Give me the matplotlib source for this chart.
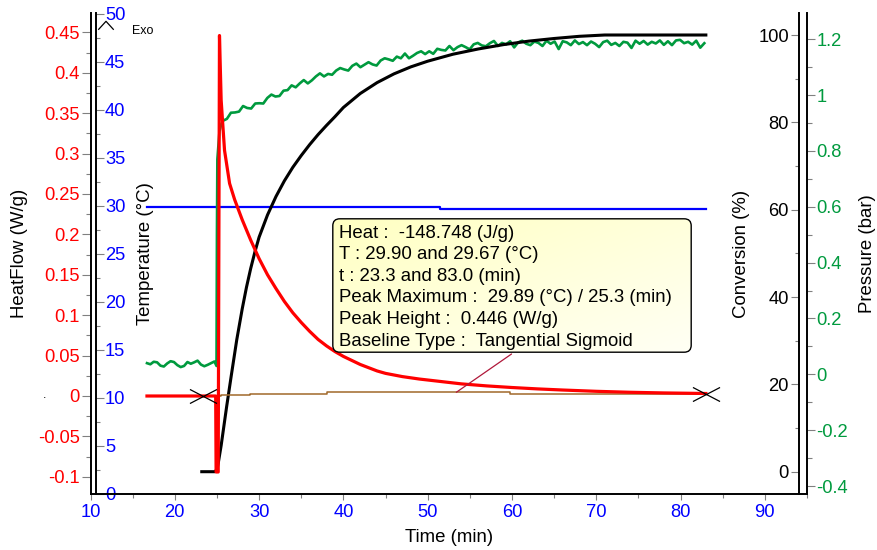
import numpy as np
import matplotlib
matplotlib.use("Agg")
import matplotlib.pyplot as plt
from matplotlib.path import Path
from matplotlib.patches import FancyBboxPatch
from matplotlib.lines import Line2D
from matplotlib.ticker import MultipleLocator, FuncFormatter

plt.rcParams['font.family'] = ['Liberation Sans', 'DejaVu Sans']
plt.rcParams['axes.unicode_minus'] = False

# ---------------- data ----------------
# heat flow (W/g)
t_hf = [16.7, 24.85, 24.9, 25.15, 25.3, 25.5, 25.9, 26.5, 27.1, 28.0, 29.0, 30.0,
        31.0, 32.0, 33.0, 34.0, 35.0, 36.0, 37.0, 38.0, 39.0, 40.0, 41.0, 42.0,
        43.0, 44.0, 45.0, 47.0, 49.0, 51.5, 54.0, 57.0, 60.0, 63.0, 66.0, 70.0,
        74.0, 78.0, 83.0]
hf = [0.0, 0.0, -0.094, -0.094, 0.446, 0.366, 0.304, 0.263, 0.243, 0.218, 0.193, 0.170,
      0.150, 0.133, 0.117, 0.103, 0.091, 0.080, 0.070, 0.062, 0.055, 0.049, 0.044, 0.039,
      0.035, 0.031, 0.028, 0.024, 0.021, 0.018, 0.015, 0.0125, 0.0105, 0.0088, 0.0074,
      0.0058, 0.0046, 0.0038, 0.0031]

# conversion (%)
t_conv = [23.2, 24.75, 25.0, 25.15, 25.5, 26.15, 26.7, 27.35, 28.0, 28.5, 29.0, 29.5,
          30.0, 31.0, 32.0, 33.0, 34.0, 35.0, 36.0, 37.0, 38.0, 39.0, 40.0, 42.0,
          44.0, 46.0, 48.0, 50.0, 53.0, 56.0, 59.0, 62.0, 65.0, 68.0, 71.0, 83.0]
conv = [0.0, 0.0, 0.5, 1.9, 6.0, 14.9, 22.0, 30.2, 37.3, 42.2, 46.5, 50.3,
        53.7, 58.8, 63.0, 66.6, 69.7, 72.4, 74.9, 77.2, 79.3, 81.3, 83.4, 86.6,
        89.1, 91.1, 92.7, 94.0, 95.6, 96.8, 97.8, 98.6, 99.2, 99.7, 100.0, 100.0]

# sample temperature (°C)
t_temp = [16.7, 51.5, 83.0]
temp = [29.90, 29.67, 29.67]

# integration baseline (W/g)
t_base = [23.3, 25.5, 28.9, 38.0, 59.8, 83.0]
base = [0.0, 0.0012, 0.0028, 0.0046, 0.0028, 0.0028]
t_limits = [23.3, 83.0]
hf_limits = [0.0, 0.0030]

# pressure (bar), logged at a fixed interval before and after dosing
p_pre_start, p_pre_step = 16.7, 0.4
p_pre = [0.040, 0.036, 0.045, 0.043, 0.031, 0.028, 0.039, 0.047, 0.044, 0.033, 0.026,
         0.030, 0.044, 0.038, 0.043, 0.049, 0.035, 0.029, 0.034, 0.040, 0.046]
t_rise = [24.95, 25.0, 25.05, 25.3, 25.5]
p_rise = [0.030, 0.50, 0.77, 0.87, 0.895]
p_post_start, p_post_step = 25.7, 0.48
p_post = [0.908, 0.915, 0.937, 0.938, 0.941, 0.961, 0.954, 0.952, 0.970, 0.971,
          0.970, 0.990, 1.002, 0.995, 0.997, 1.016, 1.018, 1.035, 1.028, 1.042,
          1.054, 1.042, 1.053, 1.067, 1.078, 1.067, 1.076, 1.073, 1.088, 1.097,
          1.092, 1.088, 1.105, 1.113, 1.100, 1.109, 1.118, 1.110, 1.106, 1.124,
          1.132, 1.128, 1.123, 1.138, 1.132, 1.149, 1.132, 1.141, 1.151, 1.157,
          1.147, 1.157, 1.148, 1.166, 1.162, 1.160, 1.176, 1.161, 1.172, 1.179,
          1.172, 1.164, 1.182, 1.187, 1.178, 1.175, 1.186, 1.194, 1.176, 1.187,
          1.182, 1.193, 1.171, 1.189, 1.195, 1.184, 1.179, 1.192, 1.187, 1.176,
          1.195, 1.184, 1.192, 1.165, 1.193, 1.189, 1.179, 1.196, 1.183, 1.190,
          1.179, 1.192, 1.184, 1.172, 1.190, 1.195, 1.180, 1.187, 1.176, 1.191,
          1.188, 1.169, 1.195, 1.184, 1.194, 1.181, 1.191, 1.185, 1.196, 1.180,
          1.193, 1.179, 1.196, 1.198, 1.186, 1.191, 1.181, 1.195, 1.170, 1.186]

x_ticks = [10, 20, 30, 40, 50, 60, 70, 80, 90]

result_lines = [
    "Heat :  -148.748 (J/g)",
    "T : 29.90 and 29.67 (°C)",
    "t : 23.3 and 83.0 (min)",
    "Peak Maximum :  29.89 (°C) / 25.3 (min)",
    "Peak Height :  0.446 (W/g)",
    "Baseline Type :  Tangential Sigmoid",
]
leader_time = 53.4

# ---------------- styling ----------------
RED = '#FF0000'
BLUE = '#0000FF'
GREEN = '#009A3E'
BROWN = '#A0682A'
TICK_GRAY = '#808080'
FS_TICK = 13.2
FS_LABEL = 13.4

W, H = 877, 550
fig = plt.figure(figsize=(W / 100, H / 100), dpi=100, facecolor='white')

L, R, B, T = 90.5, 807.0, 494.0, 13.0
ax = fig.add_axes([L / W, 1 - B / H, (R - L) / W, (B - T) / H])
ax_t = ax.twinx()
ax_p = ax.twinx()
ax_c = ax.twinx()

ax_t.set_zorder(1)
ax_p.set_zorder(2)
ax_c.set_zorder(3)
ax.set_zorder(4)
for a in (ax, ax_t, ax_p, ax_c):
    a.patch.set_visible(False)
    for s in a.spines.values():
        s.set_visible(False)
        s.set_linewidth(1.4)
        s.set_color('black')


def fmt(v, _):
    v = round(v, 6)
    if v == 0:
        v = 0.0
    return f"{v:g}"


# heat flow axis (left)
ax.spines['left'].set_visible(True)
ax.spines['bottom'].set_visible(True)
ax.set_xlim(10, 95)
ax.set_ylim(-(B - 396) / 808.2, (396 - T) / 808.2)
ax.yaxis.set_major_locator(MultipleLocator(0.05))
ax.yaxis.set_minor_locator(MultipleLocator(0.025))
ax.yaxis.set_major_formatter(FuncFormatter(fmt))
ax.tick_params(axis='y', which='major', direction='out', length=6.5, width=0.8,
               color=TICK_GRAY, labelcolor=RED, labelsize=FS_TICK, pad=1.2)
ax.tick_params(axis='y', which='minor', direction='out', length=3.4, width=0.8,
               color=TICK_GRAY)
ax.set_xticks(x_ticks)
ax.xaxis.set_minor_locator(MultipleLocator(5))
ax.tick_params(axis='x', which='major', direction='out', length=4.5, width=0.8,
               color=TICK_GRAY, labelcolor=BLUE, labelsize=FS_TICK, pad=3.0)
ax.tick_params(axis='x', which='minor', direction='out', length=3.0, width=0.8,
               color=TICK_GRAY)
ax.set_ylabel('HeatFlow (W/g)', fontsize=FS_LABEL)
ax.yaxis.set_label_coords((20 - L) / (R - L), 0.5)
ax.yaxis.label.set_va('center')
ax.set_xlabel('Time (min)', fontsize=FS_LABEL)
ax.xaxis.set_label_coords(0.5, -(538 - B) / (B - T))
ax.xaxis.label.set_va('center')

# temperature axis (inner left, ticks pointing into the plot)
ax_t.spines['right'].set_visible(True)
ax_t.spines['right'].set_position(('axes', 5.2 / (R - L)))
ax_t.set_ylim(0, (B - T) / 9.6)
ax_t.yaxis.set_major_locator(MultipleLocator(5))
ax_t.yaxis.set_minor_locator(MultipleLocator(2.5))
ax_t.yaxis.set_major_formatter(FuncFormatter(fmt))
ax_t.tick_params(axis='y', which='major', direction='out', length=5.5, width=0.8,
                 color=TICK_GRAY, labelcolor=BLUE, labelsize=FS_TICK, pad=1.2)
ax_t.tick_params(axis='y', which='minor', direction='out', length=3.0, width=0.8,
                 color=TICK_GRAY)
ax_t.set_ylabel('Temperature (°C)', fontsize=FS_LABEL)
ax_t.yaxis.set_label_coords((145 - L) / (R - L), 0.5)
ax_t.yaxis.label.set_va('center')

# conversion axis (inner right, ticks pointing into the plot)
ax_c.spines['left'].set_visible(True)
ax_c.spines['left'].set_position(('axes', (798.5 - L) / (R - L)))
ax_c.yaxis.tick_left()
ax_c.set_ylim(-(B - 471.7) / 4.367, (471.7 - T) / 4.367)
ax_c.yaxis.set_major_locator(MultipleLocator(20))
ax_c.yaxis.set_minor_locator(MultipleLocator(10))
ax_c.yaxis.set_major_formatter(FuncFormatter(fmt))
ax_c.tick_params(axis='y', which='major', direction='out', length=5.8, width=0.8,
                 color=TICK_GRAY, labelcolor='black', labelsize=FS_TICK, pad=1.2)
ax_c.tick_params(axis='y', which='minor', direction='out', length=3.0, width=0.8,
                 color=TICK_GRAY)
ax_c.set_ylabel('Conversion (%)', fontsize=FS_LABEL)
ax_c.yaxis.set_label_coords((742 - L) / (R - L), 0.5)
ax_c.yaxis.label.set_va('center')

# pressure axis (outer right)
ax_p.spines['right'].set_visible(True)
ax_p.set_ylim(-0.4 - (B - 486) / 279.2, 1.2 + (39.3 - T) / 279.2)
ax_p.yaxis.set_major_locator(MultipleLocator(0.2))
ax_p.yaxis.set_minor_locator(MultipleLocator(0.1))
ax_p.yaxis.set_major_formatter(FuncFormatter(fmt))
ax_p.tick_params(axis='y', which='major', direction='out', length=6.0, width=0.8,
                 color=TICK_GRAY, labelcolor=GREEN, labelsize=FS_TICK, pad=0.8)
ax_p.tick_params(axis='y', which='minor', direction='out', length=3.4, width=0.8,
                 color=TICK_GRAY)
ax_p.set_ylabel('Pressure (bar)', fontsize=FS_LABEL)
ax_p.yaxis.set_label_coords((867 - L) / (R - L), 0.5)
ax_p.yaxis.label.set_va('center')

# ---------------- curves ----------------
ax_t.plot(t_temp, temp, color=BLUE, lw=1.6, drawstyle='steps-post')

t_pre = p_pre_start + p_pre_step * np.arange(len(p_pre))
t_post = p_post_start + p_post_step * np.arange(len(p_post))
t_press = np.concatenate([t_pre, t_rise, t_post])
press = np.concatenate([p_pre, p_rise, p_post])
ax_p.plot(t_press, press, color=GREEN, lw=1.9)

ax_c.plot(t_conv, conv, color='black', lw=2.2)

ax.plot(t_base, base, color=BROWN, lw=1.1, drawstyle='steps-post', zorder=2)
ax.plot(t_hf, hf, color=RED, lw=2.3, zorder=3)

cross = Path([(-1, -0.52), (1, 0.52), (-1, 0.52), (1, -0.52)],
             [Path.MOVETO, Path.LINETO, Path.MOVETO, Path.LINETO])
ax.plot(t_limits, hf_limits, ls='none', marker=cross, markersize=19.5,
        markeredgewidth=0.9, markeredgecolor='black', markerfacecolor='none', zorder=5)

# leader from the baseline to the results box
leader_base = base[np.searchsorted(t_base, leader_time, side='right') - 1]
ax.annotate('', xy=(leader_time, leader_base), xytext=(59.95, 0.052),
            arrowprops=dict(arrowstyle='-', color='#B0183A', lw=0.9,
                            shrinkA=0, shrinkB=0), zorder=6)

# ---------------- results box ----------------
bx0, by0, bx1, by1 = 332, 218, 692, 353
bw, bh = bx1 - bx0, by1 - by0
bax = fig.add_axes([bx0 / W, 1 - by1 / H, bw / W, bh / H])
bax.set_zorder(10)
bax.set_xlim(0, bw)
bax.set_ylim(0, bh)
bax.axis('off')
box = FancyBboxPatch((0.8, 0.8), bw - 1.6, bh - 1.6,
                     boxstyle='round,pad=0,rounding_size=7',
                     facecolor='none', edgecolor='black', lw=1.0, zorder=3)
bax.add_patch(box)
u = np.linspace(0, 1, 200)[None, :]
v = np.linspace(0, 1, 80)[:, None]
s = 0.5 * (u + v)
grad = np.zeros((80, 200, 3))
grad[..., 0] = 1.0
grad[..., 1] = 1.0
grad[..., 2] = 0.76 + 0.2 * s
im = bax.imshow(grad, extent=(0, bw, 0, bh), origin='upper', aspect='auto', zorder=1)
im.set_clip_path(box)
baselines = [237.7, 259.3, 280.9, 302.5, 324.1, 345.7]
for line, yb in zip(result_lines, baselines):
    bax.text(339 - bx0, by1 - yb, line, fontsize=FS_LABEL, color='black',
             ha='left', va='baseline', zorder=4)

# exotherm direction marker
fig.add_artist(Line2D(np.array([98.7, 106.0, 113.3]) / W,
                      1 - np.array([29.3, 21.3, 29.3]) / H,
                      color='black', lw=0.9))
fig.text(131.7 / W, 1 - 34 / H, 'Exo', fontsize=9, ha='left', va='baseline')
fig.text(45 / W, 1 - 397.5 / H, '.', fontsize=9, ha='center', va='baseline')

fig.savefig('out.png', dpi=100, facecolor='white')
